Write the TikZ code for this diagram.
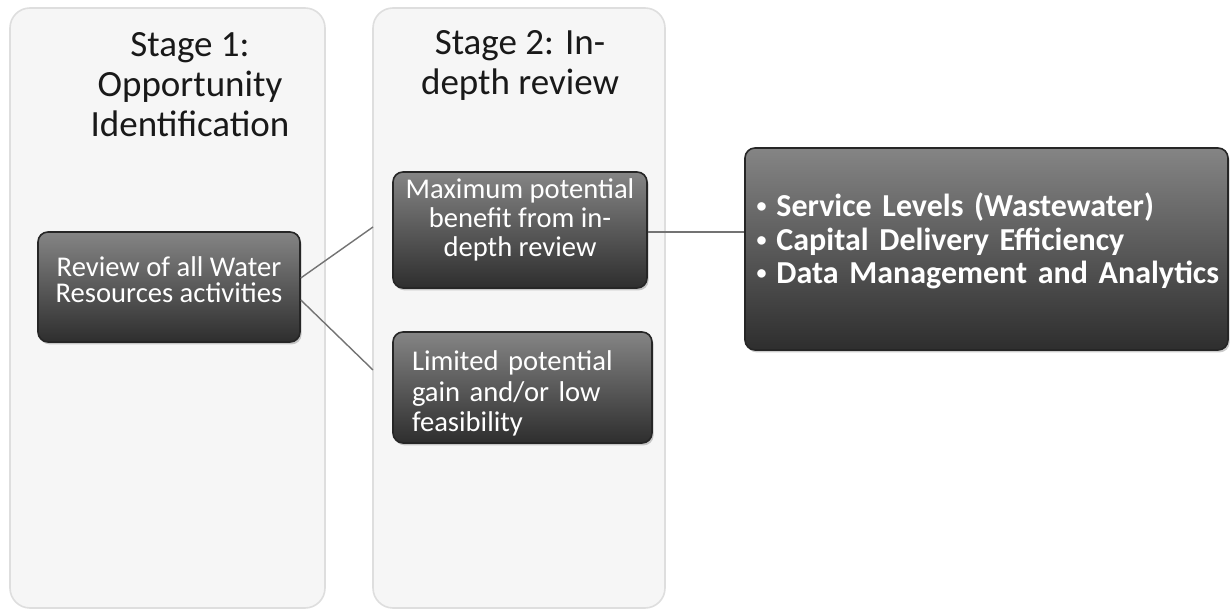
\documentclass[tikz,border=0pt]{standalone}
\usepackage{fontspec}
\setmainfont{Carlito}
\usetikzlibrary{shadows}
\newcommand{\bul}{\hspace{3pt}{\fontsize{10}{10}\selectfont\raisebox{2pt}{•}}\hspace{5pt}}
\begin{document}
\begin{tikzpicture}[x=0.5pt,y=-0.5pt,
  column/.style={draw=black!13, fill=black!3.5, rounded corners=10pt, line width=0.8pt, inner sep=0pt},
  darkbox/.style={draw=black!85, line width=0.8pt, rounded corners=5pt,
    top color=black!48, bottom color=black!82,
    drop shadow={shadow xshift=0.8pt, shadow yshift=-1.2pt, opacity=0.4},
    text=white, inner sep=0pt},
  titletext/.style={align=center, font=\fontsize{18.5}{20}\selectfont, text=black!90, inner sep=0pt},
  conn/.style={draw=black!55, line width=0.7pt}]
\useasboundingbox (0,0) rectangle (1231,613);
\fill[white] (0,0) rectangle (1231,613);
% columns
\node[column, minimum width=157.5pt, minimum height=300pt] (col1) at (167.5,308) {};
\node[column, minimum width=146pt, minimum height=300pt] (col2) at (519,308) {};
% titles
\node[titletext] (t1) at (190,85) {Stage 1:\\Opportunity\\Identification};
\node[titletext] (t2) at (520,65) {Stage 2: In-\\depth review};
% boxes
\node[darkbox, minimum width=131pt, minimum height=55pt, align=center,
      font=\fontsize{14.3}{13}\selectfont] (rev) at (169,287)
      {Review of all Water\\Resources activities\\[-6pt]\mbox{}};
\node[darkbox, minimum width=127pt, minimum height=58pt, align=center,
      font=\fontsize{14.3}{14.5}\selectfont] (max) at (520,230)
      {Maximum potential\\benefit from in-\\depth review\\[-2pt]\mbox{}};
\node[darkbox, minimum width=129.5pt, minimum height=55.5pt, align=left, text width=110.5pt,
      font=\fontsize{14.3}{15.25}\selectfont] (lim) at (522.5,387.5)
      {\mbox{}\\[1pt]Limited potential\\gain and/or low\\feasibility};
\node[darkbox, minimum width=241.5pt, minimum height=101pt, align=left, text width=236pt,
      font=\bfseries\fontsize{16}{16.75}\selectfont] (res) at (986.5,249)
      {\mbox{\bul Service Levels (Wastewater)}\\\mbox{\bul Capital Delivery Efficiency}\\\mbox{\bul Data Management and Analytics}\\[-6pt]\mbox{}};
% connectors
\coordinate (e1) at (373,227);
\coordinate (e2) at (373,370);
\draw[conn] ([yshift=4.5pt]rev.east) -- (e1);
\draw[conn] ([yshift=-6.5pt]rev.east) -- (e2);
\draw[conn] ([yshift=-1pt]max.east) -- ([yshift=-1pt]max.east -| res.west);
\end{tikzpicture}
\end{document}
